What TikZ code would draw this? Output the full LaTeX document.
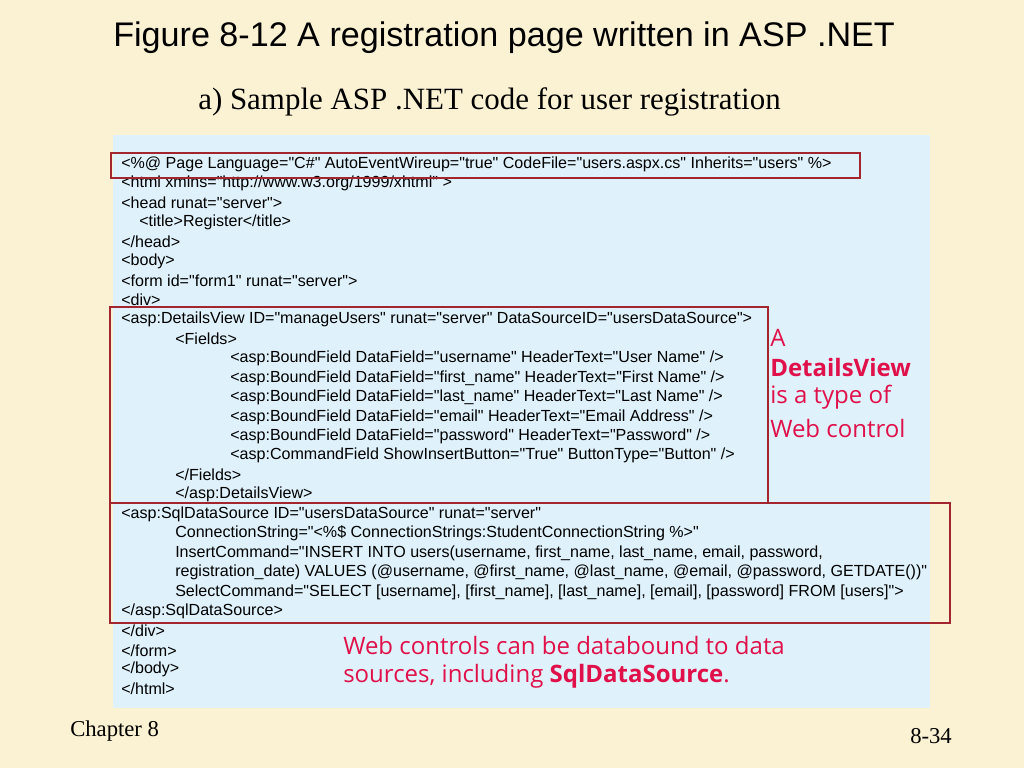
\documentclass[tikz,border=0pt]{standalone}
\usepackage{fontspec}
\setmainfont{Liberation Sans}
\newfontfamily\codefont{Liberation Sans}[Ligatures=TeXOff]
\newfontfamily\serif{Liberation Serif}
\newfontfamily\lbl{Open Sans}
\definecolor{bg}{HTML}{FBF1D3}
\definecolor{codebg}{HTML}{DFF1FB}
\definecolor{boxred}{HTML}{A3262E}
\definecolor{lblred}{HTML}{E0104A}
\begin{document}
\begin{tikzpicture}[x=0.75pt,y=-0.75pt,
  code/.style={anchor=west,inner sep=0pt,font=\codefont\fontsize{12.05}{14}\selectfont},
  hl/.style={draw=boxred,line width=1.6pt},
  lb/.style={anchor=west,inner sep=0pt,text=lblred,font=\lbl\fontsize{18}{21}\selectfont}]
\fill[bg] (0,0) rectangle (1024,768);
\useasboundingbox (0,0) rectangle (1024,768);
\fill[codebg] (113,135) rectangle (930,708);
\node[anchor=west,inner sep=0pt,font=\fontsize{25.6}{29}\selectfont] (title) at (113,38) {Figure 8-12 A registration page written in ASP .NET};
\node[anchor=west,inner sep=0pt,font=\serif\fontsize{23.2}{26}\selectfont] (sub) at (198,102) {a) Sample ASP .NET code for user registration};
\foreach \i/\x/\t in {
 1/121/{<\%@ Page Language="C\#" AutoEventWireup="true" CodeFile="users.aspx.cs" Inherits="users" \%>},
 2/121/{<html xmlns="http://www.w3.org/1999/xhtml" >},
 3/121/{<head runat="server">},
 4/139/{<title>Register</title>},
 5/121/{</head>},
 6/121/{<body>},
 7/121/{<form id="form1" runat="server">},
 8/121/{<div>},
 9/121/{<asp:DetailsView ID="manageUsers" runat="server" DataSourceID="usersDataSource">},
 10/175/{<Fields>},
 11/230/{<asp:BoundField DataField="username" HeaderText="User Name" />},
 12/230/{<asp:BoundField DataField="first\_name" HeaderText="First Name" />},
 13/230/{<asp:BoundField DataField="last\_name" HeaderText="Last Name" />},
 14/230/{<asp:BoundField DataField="email" HeaderText="Email Address" />},
 15/230/{<asp:BoundField DataField="password" HeaderText="Password" />},
 16/230/{<asp:CommandField ShowInsertButton="True" ButtonType="Button" />},
 17/175/{</Fields>},
 18/175/{</asp:DetailsView>},
 19/121/{<asp:SqlDataSource ID="usersDataSource" runat="server"},
 20/175/{ConnectionString="<\%\$ ConnectionStrings:StudentConnectionString \%>"},
 21/175/{InsertCommand="INSERT INTO users(username, first\_name, last\_name, email, password,},
 22/175/{registration\_date) VALUES (@username, @first\_name, @last\_name, @email, @password, GETDATE())"},
 23/175/{SelectCommand="SELECT [username], [first\_name], [last\_name], [email], [password] FROM [users]">},
 24/121/{</asp:SqlDataSource>},
 25/121/{</div>},
 26/121/{</form>},
 27/121/{</body>},
 28/121/{</html>}}
 \node[code] (c\i) at (\x,{164+19.45*(\i-1)}) {\t};
\draw[hl] (111,153) rectangle (860,178);
\draw[hl] (110,307) rectangle (768,503);
\draw[hl] (110,503) rectangle (950,623);
\node[lb] (l1) at (770,338) {A};
\node[lb] (l2) at (770,367) {\bfseries DetailsView};
\node[lb] (l3) at (770,397) {is a type of};
\node[lb] (l4) at (770,428) {Web control};
\node[lb] (m1) at (343,645) {Web controls can be databound to data};
\node[lb] (m2) at (343,676) {sources, including \textbf{SqlDataSource}.};
\node[anchor=west,inner sep=0pt,font=\serif\fontsize{17}{19}\selectfont] (ch) at (70,731) {Chapter 8};
\node[anchor=west,inner sep=0pt,font=\serif\fontsize{17}{19}\selectfont] (pg) at (910,736) {8-34};
\end{tikzpicture}
\end{document}
